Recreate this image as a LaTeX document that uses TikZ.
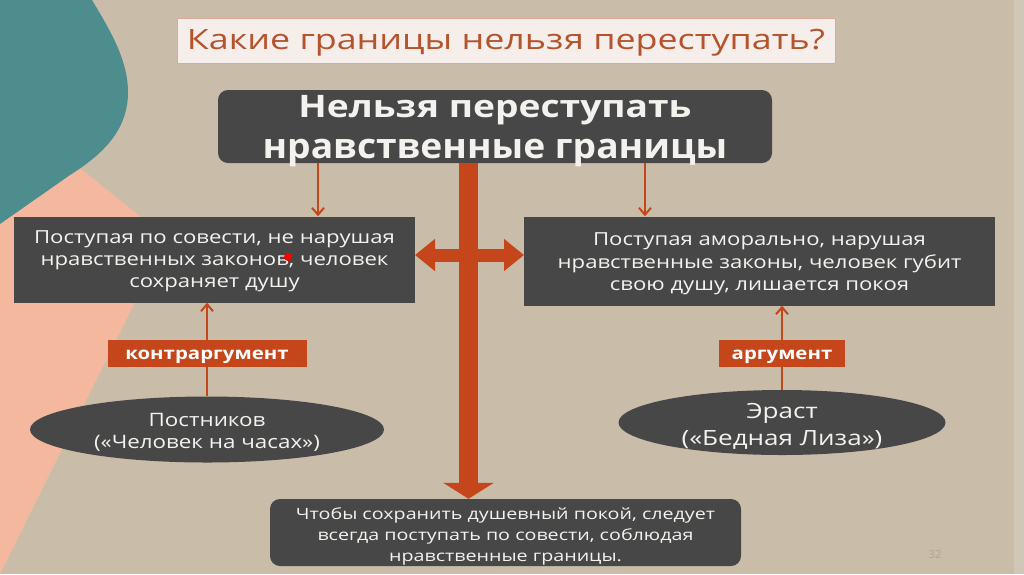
\documentclass[tikz,border=0pt]{standalone}
\usepackage{graphicx}
\usepackage{fontspec}
\setmainfont{Open Sans}
\usetikzlibrary{arrows.meta,shapes.geometric}
\definecolor{bg}{HTML}{C9BDA9}
\definecolor{teal}{HTML}{4E8D8D}
\definecolor{salmon}{HTML}{F3B89E}
\definecolor{dark}{HTML}{474747}
\definecolor{org}{HTML}{C4461A}
\definecolor{ttl}{HTML}{B5532D}
\definecolor{ttlbg}{HTML}{F6EEEA}
\definecolor{ttlbd}{HTML}{DDA996}
\definecolor{pgnum}{HTML}{ADA595}
\definecolor{wt}{HTML}{F4F2EE}
\newcommand\hs[2]{\scalebox{#1}[1]{#2}}
\tikzset{
  darkbox/.style={draw=none,fill=dark,inner sep=0pt},
  txt/.style={text=wt,align=center,inner sep=0pt},
  labbox/.style={draw=none,fill=org,inner sep=0pt},
  labtxt/.style={text=white,align=center,inner sep=0pt,font=\fontsize{17}{18}\selectfont\bfseries},
  darkell/.style={ellipse,fill=dark,inner sep=0pt},
  thin/.style={draw=org,line width=2pt},
  thinarr/.style={thin,-{Straight Barb[length=7pt,width=12pt,line width=2pt]}},
  thick/.style={draw=org,line width=19pt,-{Triangle[length=16pt,width=50pt]}},
  dbl/.style={draw=org,line width=13pt,{Triangle[length=20pt,width=31pt]}-{Triangle[length=20pt,width=31pt]}},
}
\begin{document}
\begin{tikzpicture}[x=1pt,y=-1pt]
\useasboundingbox (0,0) rectangle (1024,574);
\fill[bg] (0,0) rectangle (1024,574);
\fill[bg!85!white] (1014,0) rectangle (1024,574);
% salmon shape
\fill[salmon] (0,140) -- (70,160) -- (167,238) -- (0,574) -- cycle;
% teal blob
\fill[teal] (0,0) -- (92,0) .. controls (110,30) and (128,60) .. (128,92)
  .. controls (128,125) and (110,150) .. (70,175) -- (0,224) -- cycle;
% title
\node[draw=ttlbd,line width=1pt,fill=ttlbg,minimum width=658,minimum height=45,inner sep=0pt] (title) at (506,40.5) {};
\node[text=ttl,inner sep=0pt,font=\fontsize{28}{30}\selectfont] (titleT) at ([yshift=-2pt]title.center) {\hs{1.28}{Какие границы нельзя переступать?}};
% main box
\node[darkbox,rounded corners=10pt,minimum width=554,minimum height=73] (main) at (495,126.5) {};
\node[txt,font=\fontsize{31}{41}\selectfont\bfseries] (mainT) at ([yshift=-5pt]main.center) {\hs{1.2}{Нельзя переступать}\\\scalebox{1.2}[1.12]{нравственные границы}};
% left / right
\node[darkbox,minimum width=401,minimum height=86] (left) at (214.5,259.5) {};
\node[txt,font=\fontsize{18}{22}\selectfont] (leftT) at ([yshift=-2pt]left.center) {\hs{1.23}{Поступая по совести, не нарушая}\\\hs{1.23}{нравственных законов, человек}\\\hs{1.23}{сохраняет душу}};
\node[darkbox,minimum width=471,minimum height=89] (right) at (759.5,261) {};
\node[txt,font=\fontsize{18}{22.5}\selectfont] (rightT) at ([yshift=-3pt]right.center) {\hs{1.23}{Поступая аморально, нарушая}\\\hs{1.23}{нравственные законы, человек губит}\\\hs{1.23}{свою душу, лишается покоя}};
\fill[red] (288,257) circle (4);
% labels
\node[labbox,minimum width=199,minimum height=27] (lab1) at (207,353.5) {};
\node[labtxt] (lab1T) at ([yshift=-3pt]lab1.center) {\hs{1.2}{контраргумент}};
\node[labbox,minimum width=126,minimum height=27] (lab2) at (782,353.5) {};
\node[labtxt] (lab2T) at ([yshift=-3pt]lab2.center) {\hs{1.2}{аргумент}};
% ellipses
\node[darkell,minimum width=354,minimum height=66] (ell1) at (207,429.5) {};
\node[txt,font=\fontsize{18.5}{22}\selectfont] (ell1T) at ([yshift=-3pt]ell1.center) {\hs{1.21}{Постников}\\\hs{1.21}{(«Человек на часах»)}};
\node[darkell,minimum width=327,minimum height=65] (ell2) at (782,422.5) {};
\node[txt,font=\fontsize{21}{27}\selectfont] (ell2T) at ([yshift=-4pt]ell2.center) {\hs{1.24}{Эраст}\\\hs{1.24}{(«Бедная Лиза»)}};
% bottom
\node[darkbox,rounded corners=10pt,minimum width=471,minimum height=67] (bottom) at (505.5,532.5) {};
\node[txt,font=\fontsize{15.5}{21}\selectfont] (bottomT) at ([yshift=-4pt]bottom.center) {\hs{1.27}{Чтобы сохранить душевный покой, следует}\\\hs{1.27}{всегда поступать по совести, соблюдая}\\\hs{1.27}{нравственные границы.}};
\node[text=pgnum,font=\fontsize{11}{12}\selectfont,inner sep=0pt] (pg) at (935,555) {32};
% connectors
\coordinate (mL) at (318,163);
\coordinate (mR) at (645,163);
\draw[thinarr] (mL) -- (mL |- left.north);
\draw[thinarr] (mR) -- (mR |- right.north);
\draw[thin] (ell1.north) -- (lab1.south);
\draw[thinarr] (lab1.north) -- (lab1.north |- left.south);
\draw[thin] (ell2.north) -- (lab2.south);
\draw[thinarr] (lab2.north) -- (lab2.north |- right.south);
\coordinate (vtop) at (468.5,163);
\draw[thick] (vtop) -- (vtop |- bottom.north);
\coordinate (hL) at (415,255);
\coordinate (hR) at (524,255);
\draw[dbl] (hL) -- (hR);
\end{tikzpicture}
\end{document}
